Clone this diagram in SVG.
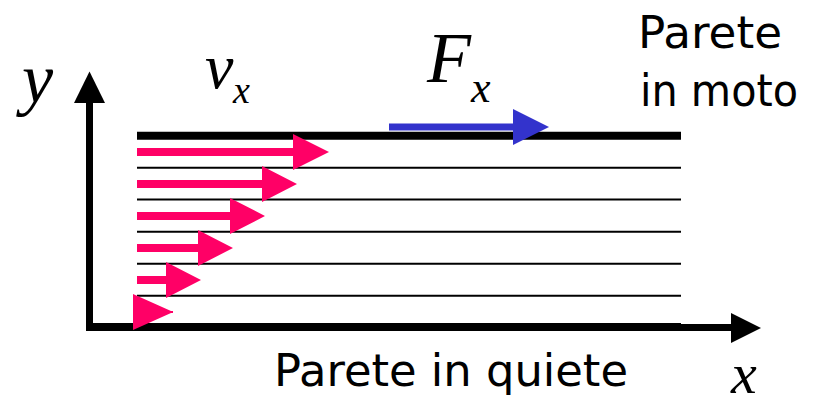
<svg xmlns="http://www.w3.org/2000/svg" width="821" height="406" viewBox="0 0 821 406">
<style>
.wall{stroke:#000;stroke-width:8;fill:none}
.layer{stroke:#000;stroke-width:2;fill:none}
.axis{stroke:#000;stroke-width:7;fill:none}
.pink{fill:#FF0066}
.blue{fill:#3333CC}
.math{font-family:"Liberation Serif","Times New Roman",serif;font-style:italic;fill:#000}
.label{font-family:"DejaVu Sans","Liberation Sans",sans-serif;font-size:44px;fill:#000}
</style>
<rect width="821" height="406" fill="#fff"/>
<g id="connectors">
  <g id="axes">
    <path class="axis" d="M89.5 100 V327.5 H732"/>
    <polygon points="89.5,71.5 74,103 105,103"/>
    <polygon points="761,328 731,313 731,343"/>
  </g>
  <g id="layers">
    <line class="layer" x1="137" y1="167.7" x2="681" y2="167.7"/>
    <line class="layer" x1="137" y1="199.6" x2="681" y2="199.6"/>
    <line class="layer" x1="137" y1="231.7" x2="681" y2="231.7"/>
    <line class="layer" x1="137" y1="263.8" x2="681" y2="263.8"/>
    <line class="layer" x1="137" y1="295.7" x2="681" y2="295.7"/>
  </g>
  <g id="walls">
    <line class="wall" x1="137" y1="135.7" x2="681" y2="135.7"/>
    <line class="wall" x1="86" y1="327" x2="681" y2="327"/>
  </g>
  <g id="velocity-profile">
    <path class="pink" d="M137 148 H293 V134 L329 152 L293 170 V156 H137 Z"/>
    <path class="pink" d="M137 180 H262 V166 L297 184 L262 202 V188 H137 Z"/>
    <path class="pink" d="M137 212 H230 V198 L265 216 L230 234 V220 H137 Z"/>
    <path class="pink" d="M137 244 H198 V230 L233 248 L198 266 V252 H137 Z"/>
    <path class="pink" d="M137 276 H166 V262 L201 280 L166 298 V284 H137 Z"/>
    <path class="pink" d="M133 294 L171 311 H173 V313 H171 L133 330 Z"/>
  </g>
  <g id="force">
    <path class="blue" d="M389 123.5 H513 V109 L549 127 L513 145 V130.5 H389 Z"/>
  </g>
</g>
<g id="label-y"><text class="math" x="22" y="102" font-size="70">y</text></g>
<g id="label-vx">
  <text class="math" x="205" y="88" font-size="64">v</text>
  <text class="math" x="233" y="103" font-size="38">x</text>
</g>
<g id="label-Fx">
  <text class="math" x="427" y="82" font-size="72">F</text>
  <text class="math" x="471" y="102" font-size="44">x</text>
</g>
<g id="label-x"><text class="math" x="731" y="393" font-size="58">x</text></g>
<g id="label-moving-wall">
  <text class="label" x="638" y="48" textLength="144" lengthAdjust="spacingAndGlyphs">Parete</text>
  <text class="label" x="640" y="106" textLength="158" lengthAdjust="spacingAndGlyphs">in moto</text>
</g>
<g id="label-still-wall">
  <text class="label" x="274" y="386" textLength="354" lengthAdjust="spacingAndGlyphs">Parete in quiete</text>
</g>
</svg>
